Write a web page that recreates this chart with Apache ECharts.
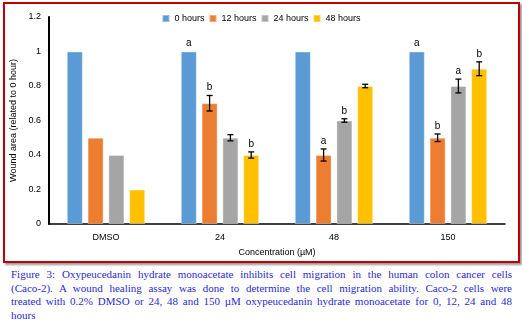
<!DOCTYPE html>
<html><head><meta charset="utf-8">
<script src="https://cdn.jsdelivr.net/npm/echarts@6/dist/echarts.min.js"></script>
<style>
body{margin:0;background:#fff;width:522px;height:326px;overflow:hidden;position:relative;}
#frame{position:absolute;left:3px;top:2px;width:513px;height:257px;border:2px solid #C00000;box-shadow:2px 2px 2px #999;}
#chart{position:absolute;left:0;top:0;width:522px;height:265px;}
#cap{position:absolute;left:11px;top:268px;width:501px;font-family:"Liberation Serif","DejaVu Serif",serif;font-size:11px;line-height:13.5px;color:#2A2AD0;}
#cap div{text-align:justify;text-align-last:justify;white-space:nowrap;}
#cap div.last{text-align-last:left;}
</style></head><body>
<div id="frame"></div>
<div id="chart"></div>
<div id="cap"><div>Figure 3: Oxypeucedanin hydrate monoacetate inhibits cell migration in the human colon cancer cells</div><div>(Caco-2). A wound healing assay was done to determine the cell migration ability. Caco-2 cells were</div><div>treated with 0.2% DMSO or 24, 48 and 150 µM oxypeucedanin hydrate monoacetate for 0, 12, 24 and 48</div><div class="last">hours</div></div>
<script>
var categories = ['DMSO', '24', '48', '150'];
var seriesNames = ['0 hours', '12 hours', '24 hours', '48 hours'];
var h0 = [1, 1, 1, 1];
var h12 = [0.5, 0.7, 0.4, 0.5];
var h24 = [0.4, 0.5, 0.6, 0.8];
var h48 = [0.2, 0.4, 0.8, 0.9];
var err0 = [0, 0, 0, 0];
var err12 = [0, 0.045, 0.035, 0.022];
var err24 = [0, 0.018, 0.01, 0.04];
var err48 = [0, 0.018, 0.01, 0.04];
var lab0 = ['', 'a', '', 'a'];
var lab12 = ['', 'b', 'a', 'b'];
var lab24 = ['', '', 'b', 'a'];
var lab48 = ['', 'b', '', 'b'];
var colors = ['#5B9BD5', '#ED7D31', '#A5A5A5', '#FFC000'];

var values = [h0, h12, h24, h48];
var errs = [err0, err12, err24, err48];
var labs = [lab0, lab12, lab24, lab48];
var BW = 16, GAP = 4.8;

var series = [];
values.forEach(function (v, i) {
  series.push({
    name: seriesNames[i], type: 'bar', data: v, barWidth: BW, barGap: '30%',
    itemStyle: { color: colors[i], borderColor: 'rgba(255,255,255,0.35)', borderWidth: 1 }
  });
});
values.forEach(function (v, i) {
  var d = v.map(function (val, j) { return [j, val, errs[i][j], labs[i][j]]; });
  series.push({
    type: 'custom', data: d, silent: true, z: 5,
    renderItem: function (params, api) {
      var j = api.value(0), val = api.value(1), e = api.value(2), lab = d[params.dataIndex][3];
      var off = (i - 1.5) * (BW + GAP);
      var c = api.coord([j, val]);
      var top = api.coord([j, val + e]);
      var bot = api.coord([j, val - e]);
      var x = c[0] + off;
      var ch = [];
      if (e > 0) {
        var s = { stroke: '#000', lineWidth: 1.3 };
        ch.push({ type: 'line', shape: { x1: x, y1: top[1], x2: x, y2: bot[1] }, style: s });
        ch.push({ type: 'line', shape: { x1: x - 3, y1: top[1], x2: x + 3, y2: top[1] }, style: s });
        ch.push({ type: 'line', shape: { x1: x - 3, y1: bot[1], x2: x + 3, y2: bot[1] }, style: s });
      }
      if (lab) {
        ch.push({ type: 'text', style: { text: lab, x: x, y: top[1] - 3, textAlign: 'center', textVerticalAlign: 'bottom', fill: '#000', font: '10px "Liberation Sans", Arial, sans-serif' } });
      }
      return { type: 'group', children: ch };
    }
  });
});

var chart = echarts.init(document.getElementById('chart'));
chart.setOption({
  animation: false,
  textStyle: { fontFamily: '"Liberation Sans", Arial, sans-serif' },
  legend: {
    data: seriesNames, top: 9, left: 'center', itemWidth: 7, itemHeight: 7, itemGap: 4,
    icon: 'rect', textStyle: { fontSize: 9, color: '#000' }
  },
  grid: { left: 49, right: 17, top: 17, bottom: 41 },
  xAxis: {
    type: 'category', data: categories,
    name: 'Concentration (µM)', nameLocation: 'middle', nameGap: 24,
    nameTextStyle: { fontSize: 9, color: '#000' },
    axisLine: { lineStyle: { color: '#000', width: 1.5 } },
    axisTick: { show: false },
    axisLabel: { fontSize: 9, color: '#000', margin: 9 }
  },
  yAxis: {
    type: 'value', min: 0, max: 1.2, interval: 0.2,
    name: 'Wound area (related to 0 hour)', nameLocation: 'middle', nameGap: 22,
    nameTextStyle: { fontSize: 9, color: '#000' },
    axisLine: { show: true, lineStyle: { color: '#000', width: 2 } },
    axisTick: { show: false },
    splitLine: { show: false },
    axisLabel: { fontSize: 9, color: '#000', margin: 8 }
  },
  series: series
});
</script>
</body></html>
